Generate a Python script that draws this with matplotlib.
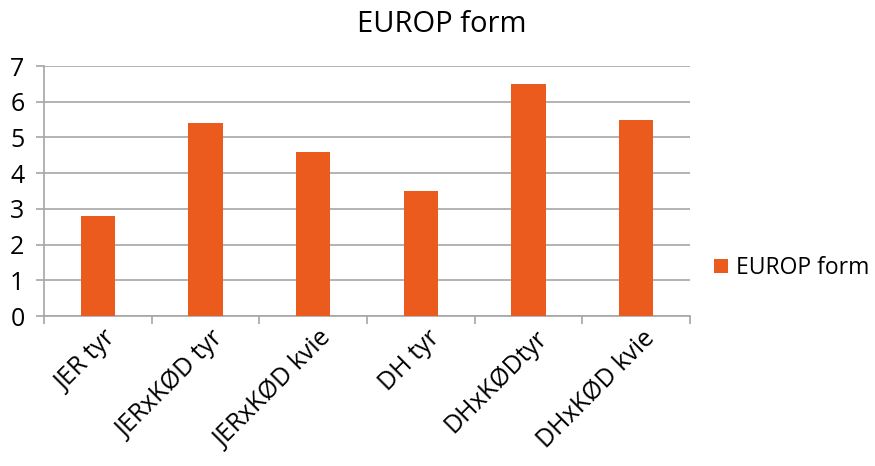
import matplotlib
matplotlib.use("Agg")
import matplotlib.pyplot as plt
from matplotlib.transforms import ScaledTranslation

plt.rcParams['font.family'] = ['Open Sans', 'DejaVu Sans']

categories = ["JER tyr", "JERxKØD tyr", "JERxKØD kvie", "DH tyr", "DHxKØDtyr", "DHxKØD kvie"]
values = [2.8, 5.4, 4.6, 3.5, 6.5, 5.5]
series_name = "EUROP form"
yticks = [0, 1, 2, 3, 4, 5, 6, 7]

bar_color = "#EA5B1D"
grid_color = "#A6A6A6"

fig = plt.figure(figsize=(8.75, 4.66), dpi=100)
ax = fig.add_axes([44/875, 1-316/466, (690-44)/875, (316-66)/466])

x = list(range(len(categories)))
bars = ax.bar(x, values, width=0.32, color=bar_color, label=series_name, zorder=3)

ax.set_xlim(-0.5, len(categories)-0.5)
ax.set_ylim(0, 7)
ax.set_yticks(yticks)
ax.set_yticklabels([str(t) for t in yticks], fontsize=18)
ax.yaxis.grid(True, color=grid_color, linewidth=1.2, zorder=0)

for s in ['top', 'right']:
    ax.spines[s].set_visible(False)
ax.spines['left'].set_color(grid_color)
ax.spines['bottom'].set_color(grid_color)
ax.spines['left'].set_linewidth(1.2)
ax.spines['bottom'].set_linewidth(1.2)

# category ticks at boundaries
ax.set_xticks([i - 0.5 for i in range(len(categories)+1)])
ax.set_xticklabels([])
ax.set_xticks(x, minor=True)
ax.set_xticklabels(categories, minor=True, rotation=45, ha='right',
                   rotation_mode='anchor', fontsize=18)
ax.tick_params(axis='x', which='minor', length=0, pad=7)
ax.tick_params(axis='x', which='major', length=6, color=grid_color, width=1.2)
ax.tick_params(axis='y', length=6, color=grid_color, width=1.2, pad=8)
offset = ScaledTranslation(6/100, 0, fig.dpi_scale_trans)
for lbl in ax.get_xticklabels(minor=True):
    lbl.set_transform(lbl.get_transform() + offset)

fig.text(442/875, 1-25/466, "EUROP form", ha='center', va='center', fontsize=21)

ax.legend(loc='center left', bbox_to_anchor=(714/875, 1-268/466),
          bbox_transform=fig.transFigure, frameon=False, fontsize=16.5,
          handlelength=0.6, handleheight=0.6, handletextpad=0.35,
          borderpad=0, borderaxespad=0)

fig.savefig("out.png", dpi=100)
